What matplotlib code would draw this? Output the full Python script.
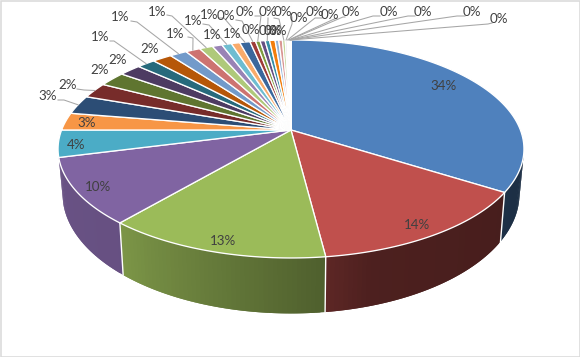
import numpy as np
import matplotlib
matplotlib.use("Agg")
import matplotlib.pyplot as plt
from matplotlib.collections import PolyCollection
from matplotlib.patches import Polygon, Rectangle

# ---- data (share of total, percent, clockwise from 12 o'clock)
values = [34, 14, 13.2, 9.8, 4, 2.6, 2.8, 2.3, 2.2, 1.8, 1.5, 1.6, 1.4, 1.2, 1.1, 0.8, 0.8, 0.7, 0.84,
          0.46, 0.37, 0.41, 0.37, 0.45, 0.30, 0.30, 0.23, 0.14, 0.10, 0.08, 0.06, 0.04, 0.03, 0.01, 0.01]

colors = ["#4f81bd", "#c0504d", "#9bbb59", "#8064a2", "#4bacc6", "#f79646",
          "#2c4d75", "#772c2a", "#5f7530", "#4d3b62", "#276a7c", "#b65708",
          "#729aca", "#cd7371", "#afc97a", "#9983b5", "#6fbdd1", "#f9ab6b",
          "#3a679c", "#9e3b38", "#7e9c40", "#664f82", "#358ea6", "#f27d0c",
          "#95b3d7", "#d99694", "#c3d69b", "#b2a2c7", "#93cddd", "#fac090",
          "#dce6f2", "#f2dcdb", "#ebf1de", "#e6e0ec", "#dbeef4"]

# ---- layout (pixel positions of labels; leader stub start and elbow or None)
label_layout = [
    (444, 86, None), (417, 225, None), (223, 241, None), (98, 187, None),
    (76, 145, None), (87, 123, None),
    (48, 96, ((58, 100), (64, 100))), (68, 85, ((77, 89), (84, 90))),
    (100, 70, None), (118, 60, None),
    (100, 37, ((110, 41), (114, 41))), (150, 49, None),
    (120, 17, ((131, 21), (137, 22))), (175, 34, ((188, 37), (193, 38))),
    (157, 12, ((167, 15), (172, 16))), (212, 35, None),
    (193, 21, ((203, 24), (209, 25))), (232, 34, None),
    (209, 15, ((219, 18), (224, 18))),
    (226, 16, ((236, 20), (242, 21))), (245, 12, ((255, 16), (261, 16))),
    (251, 30, None), (268, 12, ((268, 18), (268, 19))),
    (268, 31, None), (273, 31, None), (278, 31, None),
    (283, 12, ((274, 18), (279, 19))),
    (299, 18, ((292, 17), (292, 24))), (315, 12, ((322, 18), (315, 18))),
    (330, 15, ((337, 18), (332, 20))), (351, 12, ((345, 17), (343, 17))),
    (389, 12, ((380, 16), (373, 16))), (423, 12, ((415, 16), (408, 16))),
    (472, 12, ((465, 16), (457, 16))), (499, 19, ((492, 23), (488, 24))),
]

# ---- perspective projection of the disc
CX, CY, R, S, K = 291.0, 130.0, 229.4, 105.7, 0.174
CY2, R2, S2 = 173.0, 225.0, 116.0


def top(deg):
    a = np.radians(deg)
    u, v = np.sin(a), np.cos(a)
    w = 1 + K * v
    return CX + R * u / w, CY - S * v / w


def low(deg):
    a = np.radians(deg)
    u, v = np.sin(a), np.cos(a)
    w = 1 + K * v
    return CX + R2 * u / w, CY2 - S2 * v / w


def darker(col, f):
    rgb = np.array(matplotlib.colors.to_rgb(col))
    return tuple(rgb * f)


fig = plt.figure(figsize=(5.8, 3.57), dpi=100, facecolor="white")
ax = fig.add_axes([0, 0, 1, 1])
ax.set_xlim(0, 580)
ax.set_ylim(357, 0)
ax.axis("off")

vals = np.array(values, dtype=float)
edges = np.concatenate([[0], np.cumsum(vals) / vals.sum() * 360])

# side wall: overlapping strips so no seams show
SIDE_START, SIDE_END = 101.0, edges[4]
polys, facecols = [], []
for i in range(len(vals)):
    a0, a1 = max(edges[i], SIDE_START), min(edges[i + 1], SIDE_END)
    if a1 <= a0:
        continue
    steps = np.linspace(a0, a1, max(2, int(a1 - a0) + 2))
    for p, q in zip(steps[:-1], steps[1:]):
        q2 = min(q + 1.0, a1)
        arc = np.linspace(p, q2, 4)
        polys.append([top(a) for a in arc] + [low(a) for a in arc[::-1]])
        f = np.interp((p + q) / 2, [100, 122, 150, 163, 172, 173, 220, 256],
                      [0.36, 0.37, 0.39, 0.40, 0.48, 0.51, 0.80, 0.82])
        facecols.append(darker(colors[i], f))
ax.add_collection(PolyCollection(polys, facecolors=facecols, edgecolors="none", zorder=1))
for a in edges[1:4]:
    p, q = top(a), low(a)
    ax.plot([p[0], q[0]], [p[1], q[1]], color="white", lw=1.0, zorder=2)

# top face
for i in range(len(vals)):
    ang = np.linspace(edges[i], edges[i + 1], max(2, int(edges[i + 1] - edges[i]) * 2 + 2))
    xy = [(CX, CY)] + [top(a) for a in ang]
    ax.add_patch(Polygon(xy, closed=True, facecolor=colors[i], edgecolor="white",
                         lw=0.95, joinstyle="round", zorder=3))

# leaders and labels
for i, (lx, ly, lead) in enumerate(label_layout):
    txt = f"{round(vals[i] / vals.sum() * 100):d}%"
    if lead is not None:
        rim = top((edges[i] + edges[i + 1]) / 2)
        xs = [lead[0][0], lead[1][0], rim[0]]
        ys = [lead[0][1], lead[1][1], rim[1]]
        ax.plot(xs, ys, color="#a6a6a6", lw=0.75, zorder=4, solid_joinstyle="round")
    ax.text(lx, ly, txt, ha="center", va="center", fontsize=9.6, family="Lato",
            color="#404040", zorder=5)

# chart frame
ax.add_patch(Rectangle((0.5, 0.5), 579, 356, fill=False, edgecolor="#d9d9d9", lw=1.1,
                       zorder=6, clip_on=False))

fig.savefig("out.png", dpi=100)
